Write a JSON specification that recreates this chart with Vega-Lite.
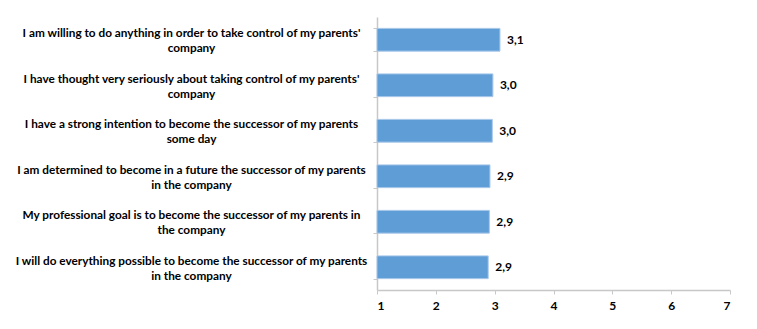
{
  "$schema": "https://vega.github.io/schema/vega-lite/v6.json",
  "width": 353,
  "height": 273,
  "autosize": {"type": "none"},
  "padding": {"left": 377, "top": 17, "right": 27, "bottom": 39},
  "background": "white",
  "config": {
    "view": {"stroke": null},
    "font": "Lato",
    "locale": {"number": {"decimal": ",", "thousands": ".", "grouping": [3], "currency": ["", " €"]}}
  },
  "data": {
    "values": [
      {"item": "I am willing to do anything in order to take control of my parents'|company", "mean": 3.09},
      {"item": "I have thought very seriously about taking control of my parents'|company", "mean": 2.97},
      {"item": "I have a strong intention to become the successor of my parents|some day", "mean": 2.96},
      {"item": "I am determined to become in a future the successor of my parents|in the company", "mean": 2.92},
      {"item": "My professional goal is to become the successor of my parents in|the company", "mean": 2.91},
      {"item": "I will do everything possible to become the successor of my parents|in the company", "mean": 2.89}
    ]
  },
  "encoding": {
    "y": {
      "field": "item",
      "type": "nominal",
      "sort": null,
      "title": null,
      "scale": {"paddingInner": 0.5, "paddingOuter": 0.25},
      "axis": {
        "labelExpr": "split(datum.label, '|')",
        "labelAlign": "center",
        "labelBaseline": "middle",
        "labelOffset": -7,
        "labelPadding": 182,
        "labelFont": "Lato",
        "labelFontSize": 11.8,
        "labelFontWeight": "bold",
        "labelColor": "black",
        "labelLineHeight": 15,
        "labelLimit": 400,
        "tickBand": "extent",
        "tickSize": 4,
        "tickColor": "#c8c8c8",
        "domainColor": "#c8c8c8",
        "domainWidth": 1.5
      }
    }
  },
  "layer": [
    {
      "mark": {"type": "bar", "fill": "#5f9dd6", "stroke": "#a8c8ea", "strokeWidth": 1},
      "encoding": {
        "x": {
          "field": "mean",
          "type": "quantitative",
          "title": null,
          "scale": {"domain": [1, 7], "nice": false, "zero": false},
          "axis": {
            "values": [1, 2, 3, 4, 5, 6, 7],
            "grid": false,
            "format": "d",
            "labelFont": "Lato",
            "labelFontSize": 12,
            "labelFontWeight": "bold",
            "labelColor": "black",
            "labelPadding": 6,
            "tickSize": 4,
            "tickColor": "#c8c8c8",
            "domainColor": "#c8c8c8",
            "domainWidth": 1.5
          }
        },
        "x2": {"datum": 1}
      }
    },
    {
      "mark": {"type": "text", "align": "left", "baseline": "middle", "dx": 7, "font": "Lato", "fontSize": 12, "fontWeight": "bold", "color": "black"},
      "encoding": {
        "x": {"field": "mean", "type": "quantitative"},
        "text": {"field": "mean", "type": "quantitative", "format": ".1f"}
      }
    }
  ]
}
